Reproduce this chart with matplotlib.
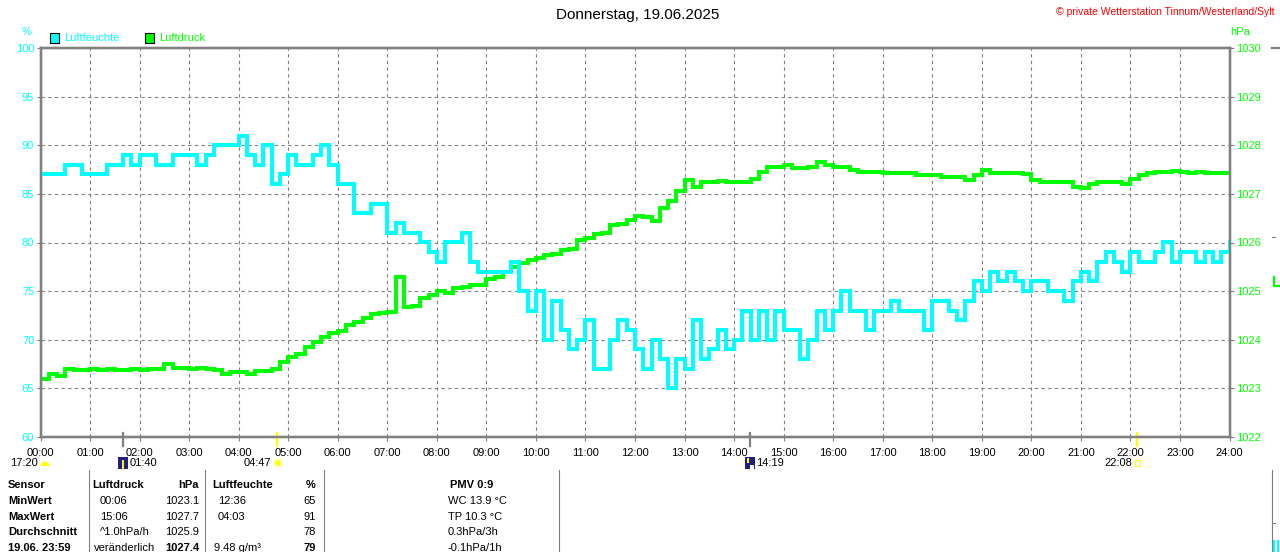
import matplotlib
matplotlib.use('Agg')
import matplotlib.pyplot as plt
import matplotlib.transforms as mtransforms
from matplotlib.patches import Rectangle, Circle, Wedge
from matplotlib.lines import Line2D
import numpy as np

# ---------------- data (10-minute readings, 00:00 .. 24:00) ----------------
humidity = [
    87, 87, 87, 88, 88, 87, 87, 87, 88, 88, 89, 88, 89, 89, 88, 88, 89, 89, 89, 88,
    89, 90, 90, 90, 91, 89, 88, 90, 86, 87, 89, 88, 88, 89, 90, 88, 86, 86, 83, 83,
    84, 84, 81, 82, 81, 81, 80, 79, 78, 80, 80, 81, 78, 77, 77, 77, 77, 78, 75, 73,
    75, 70, 74, 71, 69, 70, 72, 67, 67, 70, 72, 71, 69, 67, 70, 68, 65, 68, 67, 72,
    68, 69, 71, 69, 70, 73, 70, 73, 70, 73, 71, 71, 68, 70, 73, 71, 73, 75, 73, 73,
    71, 73, 73, 74, 73, 73, 73, 71, 74, 74, 73, 72, 74, 76, 75, 77, 76, 77, 76, 75,
    76, 76, 75, 75, 74, 76, 77, 76, 78, 79, 78, 77, 79, 78, 78, 79, 80, 78, 79, 79,
    78, 79, 78, 79, 80,
]
pressure = [
    1023.20, 1023.30, 1023.25, 1023.40, 1023.37, 1023.37, 1023.40, 1023.37, 1023.40, 1023.37,
    1023.37, 1023.40, 1023.37, 1023.40, 1023.40, 1023.50, 1023.42, 1023.42, 1023.40, 1023.42,
    1023.40, 1023.37, 1023.30, 1023.33, 1023.33, 1023.30, 1023.35, 1023.35, 1023.40, 1023.55,
    1023.65, 1023.70, 1023.85, 1023.95, 1024.05, 1024.14, 1024.18, 1024.30, 1024.36, 1024.45,
    1024.53, 1024.55, 1024.58, 1025.30, 1024.68, 1024.70, 1024.85, 1024.92, 1025.00, 1024.96,
    1025.06, 1025.08, 1025.12, 1025.12, 1025.25, 1025.29, 1025.40, 1025.50, 1025.58, 1025.63,
    1025.68, 1025.74, 1025.76, 1025.84, 1025.86, 1026.05, 1026.10, 1026.17, 1026.20, 1026.36,
    1026.38, 1026.46, 1026.55, 1026.52, 1026.45, 1026.70, 1026.85, 1027.05, 1027.28, 1027.15,
    1027.25, 1027.25, 1027.27, 1027.25, 1027.25, 1027.25, 1027.30, 1027.45, 1027.55, 1027.55,
    1027.60, 1027.53, 1027.53, 1027.55, 1027.65, 1027.60, 1027.55, 1027.55, 1027.50, 1027.45,
    1027.45, 1027.45, 1027.42, 1027.42, 1027.42, 1027.42, 1027.38, 1027.38, 1027.38, 1027.35,
    1027.35, 1027.35, 1027.28, 1027.38, 1027.50, 1027.42, 1027.42, 1027.42, 1027.42, 1027.40,
    1027.28, 1027.25, 1027.25, 1027.25, 1027.25, 1027.15, 1027.12, 1027.20, 1027.25, 1027.25,
    1027.25, 1027.20, 1027.30, 1027.38, 1027.42, 1027.45, 1027.45, 1027.48, 1027.45, 1027.42,
    1027.45, 1027.42, 1027.42, 1027.42, 1027.42,
]
hours = np.arange(len(humidity)) / 6.0

hour_labels = [f"{h:02d}:00" for h in range(25)]
hum_ticks = list(range(60, 101, 5))
pres_ticks = list(range(1022, 1031))

# astro events (hours)
moonrise_h = 1 + 40 / 60
sunrise_h = 4 + 47 / 60
moonset_h = 14 + 19 / 60
sunset_h = 22 + 8 / 60

table_rows = [
    ["Sensor", "Luftdruck", "hPa", "Luftfeuchte", "%", "PMV 0:9"],
    ["MinWert", "00:06", "1023.1", "12:36", "65", "WC 13.9 °C"],
    ["MaxWert", "15:06", "1027.7", "04:03", "91", "TP 10.3 °C"],
    ["Durchschnitt", "^1.0hPa/h", "1025.9", "", "78", "0.3hPa/3h"],
    ["19.06. 23:59", "veränderlich", "1027.4", "9.48 g/m³", "79", "-0.1hPa/1h"],
]

# ---------------- figure ----------------
plt.rcParams['font.family'] = ['Liberation Sans', 'DejaVu Sans']
W, H = 1280, 552
fig = plt.figure(figsize=(W / 100, H / 100), dpi=100)
fig.patch.set_facecolor('white')

CYAN = '#00FFFF'
GREEN = '#00FF00'
GRAY = '#808080'

L, R, T, B = 40.5, 1229.5, 48, 437
rect = [L / W, 1 - B / H, (R - L) / W, (B - T) / H]

ax = fig.add_axes(rect)          # grid + humidity ticks
ax2 = ax.twinx()                  # pressure
ax3 = ax.twinx()                  # humidity line on top
ax.set_zorder(1); ax2.set_zorder(2); ax3.set_zorder(3)
for a in (ax2, ax3):
    a.patch.set_visible(False)

ax.set_xlim(0, 24)
ax.set_ylim(60, 100)
ax2.set_ylim(1022, 1030)
ax3.set_ylim(60, 100)

ax2.step(hours, pressure, where='post', color=GREEN, lw=2.9, solid_joinstyle='miter')
ax3.step(hours, humidity, where='post', color=CYAN, lw=2.9, solid_joinstyle='miter')

ax.set_xticks(range(25))
ax.set_xticklabels(hour_labels, fontsize=8, color='black')
ax.set_yticks(hum_ticks)
ax.set_yticklabels([str(v) for v in hum_ticks], fontsize=8, color=CYAN)
ax2.set_yticks(pres_ticks)
ax2.set_yticklabels([str(v) for v in pres_ticks], fontsize=8, color=GREEN)
ax3.set_yticks([])

ax.tick_params(axis='x', length=3, width=0.8, color=GRAY, pad=5)
ax.tick_params(axis='y', length=3, width=0.8, color=GRAY, pad=1.5)
ax2.tick_params(axis='y', length=3, width=0.8, color=GRAY, pad=1.5)

ax.grid(True, color=GRAY, linestyle=(0, (3, 3)), lw=0.8)
for a in (ax, ax2, ax3):
    for s in a.spines.values():
        s.set_color(GRAY)
        s.set_linewidth(1.6)

# astro ticks on the time axis
btrans = mtransforms.blended_transform_factory(ax.transData, ax.transAxes)
for t, c in [(moonrise_h, GRAY), (sunrise_h, '#FFFF00'), (moonset_h, GRAY), (sunset_h, '#FFFF00')]:
    ax.add_line(Line2D([t, t], [4 / 389, -9 / 389], transform=btrans, color=c, lw=1.6,
                       clip_on=False, zorder=5))

# ---------------- helpers in pixel coords (top-left origin) ----------------
PX = mtransforms.Affine2D().scale(1 / W, -1 / H).translate(0, 1) + fig.transFigure


def ft(x, y, s, **kw):
    kw.setdefault('fontsize', 8)
    kw.setdefault('va', 'center')
    return fig.text(x / W, 1 - y / H, s, **kw)


def vline(x, y0, y1, color=GRAY, lw=0.8):
    fig.add_artist(Line2D([x, x], [y0, y1], transform=PX, color=color, lw=lw))


def hline(x0, x1, y, color=GRAY, lw=0.8):
    fig.add_artist(Line2D([x0, x1], [y, y], transform=PX, color=color, lw=lw))


# titles
ft(638, 15, "Donnerstag, 19.06.2025", ha='center', fontsize=11)
ft(1275, 12, "© private Wetterstation Tinnum/Westerland/Sylt", ha='right', fontsize=7.5, color='red')
ft(27, 32, "%", ha='center', color=CYAN)
ft(1240, 32, "hPa", ha='center', color=GREEN)

# legend
fig.add_artist(Rectangle((50, 33), 9, 10, transform=PX, fc=CYAN, ec='black', lw=0.8))
ft(64, 38, "Luftfeuchte", ha='left', color=CYAN)
fig.add_artist(Rectangle((145, 33), 9, 10, transform=PX, fc=GREEN, ec='black', lw=0.8))
ft(159, 38, "Luftdruck", ha='left', color=GREEN)

# astro labels row
ft(10, 463, "17:20", ha='left')
fig.add_artist(Wedge((45, 466), 4.5, 180, 360, transform=PX, fc='#FFFF00', ec='none'))
fig.add_artist(Rectangle((118, 457), 10, 12, transform=PX, fc='#202080', ec='none'))
fig.add_artist(Rectangle((122, 460), 2, 9, transform=PX, fc='#FFFF00', ec='none'))
ft(130, 463, "01:40", ha='left')
ft(244, 463, "04:47", ha='left')
fig.add_artist(Circle((278, 463), 3.5, transform=PX, fc='#FFFF00', ec='#FFFFA0', lw=1.5))
fig.add_artist(Rectangle((745, 457), 10, 12, transform=PX, fc='#202080', ec='none'))
fig.add_artist(Rectangle((747, 458), 2, 5, transform=PX, fc='#FFFF00', ec='none'))
fig.add_artist(Rectangle((750, 465), 4, 4, transform=PX, fc='white', ec='none'))
ft(756, 463, "14:19", ha='left')
ft(1104, 463, "22:08", ha='left')
fig.add_artist(Rectangle((1135, 460), 5, 6, transform=PX, fc='none', ec='#FFFF00', lw=0.8))

# table
for x in (88.5, 205, 323.5, 559):
    vline(x, 470, 552)
vline(1272, 470, 552)
row_y = [485, 500.7, 516.7, 532.3, 548]
for r, (y, row) in enumerate(zip(row_y, table_rows)):
    head = (r == 0)
    last = (r == 4)
    ft(8, y, row[0], ha='left', fontweight='bold')
    ft(92 if head else (94 if last else 100), y, row[1], ha='left',
       fontweight='bold' if head else 'normal')
    ft(199, y, row[2], ha='right', fontweight='bold' if (head or last) else 'normal')
    ft(212 if head else (214 if last else 218), y, row[3], ha='left',
       fontweight='bold' if head else 'normal')
    ft(316, y, row[4], ha='right', fontweight='bold' if (head or last) else 'normal')
    if head:
        ft(472, y, row[5], ha='center', fontweight='bold')
    else:
        ft(448, y, row[5], ha='left')

# edge fragments of the neighbouring panel
hline(1272, 1280, 48, lw=1.6)
hline(1272, 1275, 237)
hline(1272, 1275, 523)
fig.add_artist(Line2D([1273.5, 1273.5, 1280], [277, 286, 286], transform=PX, color=GREEN, lw=1.6))
fig.add_artist(Rectangle((1273, 540), 2, 12, transform=PX, fc=CYAN, ec='none'))
fig.add_artist(Rectangle((1277, 540), 2, 12, transform=PX, fc=CYAN, ec='none'))

fig.savefig('out.png', dpi=100, facecolor='white')
